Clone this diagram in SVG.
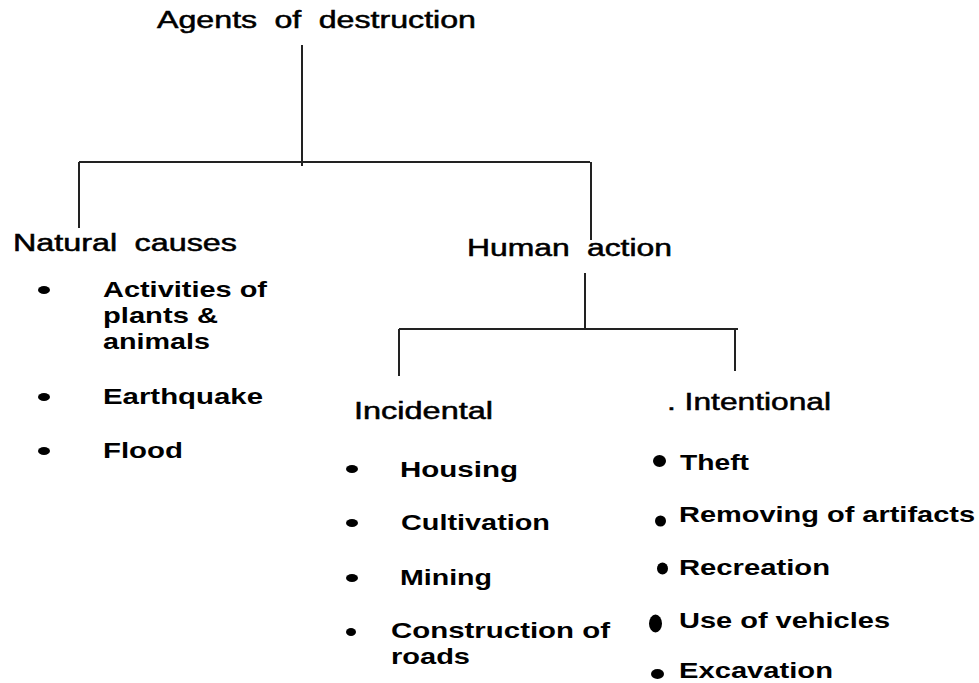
<svg xmlns="http://www.w3.org/2000/svg" width="979" height="683" viewBox="0 0 979 683">
<style>
.h{font-family:"Liberation Sans",Arial,sans-serif;font-size:23px;word-spacing:6px;fill:#000;stroke:#000;stroke-width:0.5}
.b{font-family:"Liberation Sans",Arial,sans-serif;font-size:22px;font-weight:bold;fill:#000}
.ln{stroke:#222;stroke-width:2;fill:none}
.dot{fill:#000}
</style>
<rect width="979" height="683" fill="#fff"/>
<g id="connectors">
<path class="ln" d="M302 45V166M79 162H590M79 162V228M591 162V240"/>
<path class="ln" d="M585 273V330M399 329H738M399 329V376M735 329V371"/>
</g>
<g id="root"><text class="h" x="157" y="28" textLength="319" lengthAdjust="spacingAndGlyphs">Agents of destruction</text></g>
<g id="natural">
<text class="h" x="13" y="251" textLength="224" lengthAdjust="spacingAndGlyphs">Natural causes</text>
<ellipse class="dot" cx="44" cy="290" rx="6" ry="4"/>
<text class="b" x="103" y="297" textLength="164" lengthAdjust="spacingAndGlyphs">Activities of</text>
<text class="b" x="103" y="323" textLength="115" lengthAdjust="spacingAndGlyphs">plants &amp;</text>
<text class="b" x="103" y="349" textLength="107" lengthAdjust="spacingAndGlyphs">animals</text>
<ellipse class="dot" cx="44" cy="397" rx="6" ry="4"/>
<text class="b" x="103" y="404" textLength="160" lengthAdjust="spacingAndGlyphs">Earthquake</text>
<ellipse class="dot" cx="44" cy="451" rx="6" ry="4"/>
<text class="b" x="103" y="458" textLength="80" lengthAdjust="spacingAndGlyphs">Flood</text>
</g>
<g id="human"><text class="h" x="467" y="256" textLength="205" lengthAdjust="spacingAndGlyphs">Human action</text></g>
<g id="incidental">
<text class="h" x="354" y="419" textLength="139" lengthAdjust="spacingAndGlyphs">Incidental</text>
<ellipse class="dot" cx="352" cy="469" rx="6" ry="4"/>
<text class="b" x="400" y="477" textLength="118" lengthAdjust="spacingAndGlyphs">Housing</text>
<ellipse class="dot" cx="352" cy="523" rx="6" ry="4"/>
<text class="b" x="401" y="530" textLength="149" lengthAdjust="spacingAndGlyphs">Cultivation</text>
<ellipse class="dot" cx="352" cy="578" rx="6" ry="4"/>
<text class="b" x="400" y="585" textLength="92" lengthAdjust="spacingAndGlyphs">Mining</text>
<ellipse class="dot" cx="351" cy="632" rx="5" ry="4"/>
<text class="b" x="391" y="638" textLength="219" lengthAdjust="spacingAndGlyphs">Construction of</text>
<text class="b" x="391" y="664" textLength="79" lengthAdjust="spacingAndGlyphs">roads</text>
</g>
<g id="intentional">
<text class="h" x="667" y="410" textLength="164" lengthAdjust="spacingAndGlyphs" style="word-spacing:0">. Intentional</text>
<ellipse class="dot" cx="659.5" cy="461" rx="6.5" ry="6"/>
<text class="b" x="680" y="470" textLength="69" lengthAdjust="spacingAndGlyphs">Theft</text>
<ellipse class="dot" cx="660.5" cy="521" rx="5.5" ry="5.5"/>
<text class="b" x="679" y="522" textLength="296" lengthAdjust="spacingAndGlyphs">Removing of artifacts</text>
<ellipse class="dot" cx="662.5" cy="568.5" rx="5.5" ry="6"/>
<text class="b" x="679" y="575" textLength="151" lengthAdjust="spacingAndGlyphs">Recreation</text>
<ellipse class="dot" cx="655.5" cy="623.5" rx="6.5" ry="9"/>
<text class="b" x="679" y="628" textLength="211" lengthAdjust="spacingAndGlyphs">Use of vehicles</text>
<ellipse class="dot" cx="657.5" cy="674" rx="6.5" ry="5"/>
<text class="b" x="679" y="678" textLength="154" lengthAdjust="spacingAndGlyphs">Excavation</text>
</g>
</svg>
